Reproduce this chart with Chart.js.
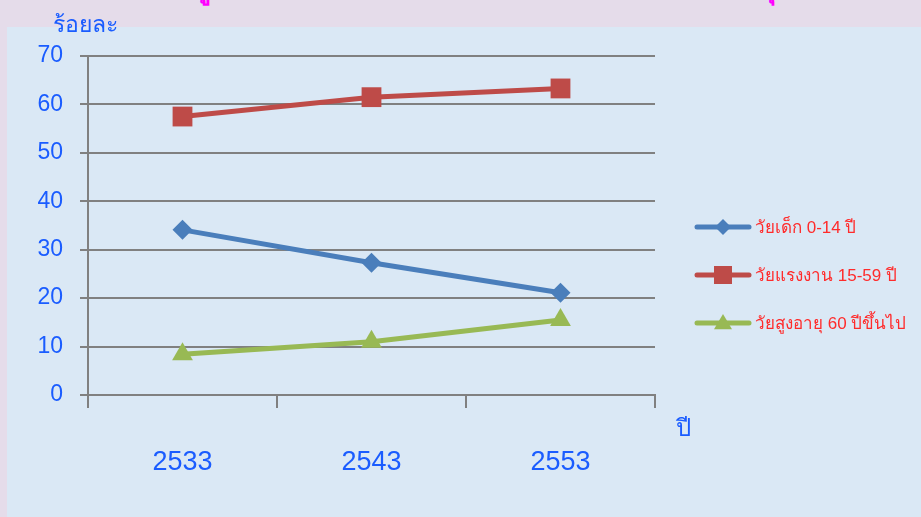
<!DOCTYPE html>
<html>
<head>
<meta charset="utf-8">
<script src="https://cdn.jsdelivr.net/npm/chart.js@4/dist/chart.umd.min.js"></script>
<style>
  html, body { margin: 0; padding: 0; }
  body { width: 921px; height: 517px; background: #e5dcea; position: relative; overflow: hidden; font-family: "Liberation Sans", Arial, sans-serif; }
  #bg { position: absolute; left: 7px; top: 27px; right: 0; bottom: 0; background: #dae8f5; }
  #wrap { position: absolute; left: 0; top: 0; width: 921px; height: 517px; }
  .lbl { position: absolute; color: #1a5cff; white-space: nowrap; }
  .ttl { position: absolute; color: #ff00ff; white-space: nowrap; font-size: 28px; line-height: 28px; font-weight: bold; }
</style>
</head>
<body>
<div id="bg"></div>
<div class="ttl" style="left:193px; top:-25px;">ดู</div>
<div class="ttl" style="left:758px; top:-25px;">ปุ</div>
<div id="wrap"><canvas id="c" width="921" height="517"></canvas></div>
<div class="lbl" id="ytitle" style="left:53px; top:6px; font-size:23px;">ร้อยละ</div>
<div class="lbl" id="xtitle" style="left:676px; top:408px; font-size:24px;">ปี</div>
<script>
const years = ['2533', '2543', '2553'];
const child = [34.1, 27.3, 21.1];
const working = [57.5, 61.5, 63.3];
const elderly = [8.4, 11.0, 15.5];
const seriesNames = ['วัยเด็ก 0-14 ปี', 'วัยแรงงาน 15-59 ปี', 'วัยสูงอายุ 60 ปีขึ้นไป'];
const yTicks = [0, 10, 20, 30, 40, 50, 60, 70];

const colors = ['#4a7ebb', '#be4b48', '#98b954'];
const styles = ['rectRot', 'rect', 'triangle'];
const radii = [10, 14, 12];

function drawMarker(ctx, style, x, y, s, color) {
  ctx.save();
  ctx.fillStyle = color;
  ctx.beginPath();
  if (style === 'rectRot') {
    ctx.moveTo(x, y - s); ctx.lineTo(x + s, y); ctx.lineTo(x, y + s); ctx.lineTo(x - s, y);
  } else if (style === 'rect') {
    ctx.rect(x - s, y - s, 2 * s, 2 * s);
  } else {
    ctx.moveTo(x, y - s); ctx.lineTo(x + s, y + s * 0.7); ctx.lineTo(x - s, y + s * 0.7);
  }
  ctx.closePath();
  ctx.fill();
  ctx.restore();
}

const legendPlugin = {
  id: 'customLegend',
  afterDraw(chart) {
    const ctx = chart.ctx;
    const rows = [227, 275, 323];
    const sizes = [8, 9, 9];
    ctx.save();
    seriesNames.forEach((name, i) => {
      const y = rows[i];
      ctx.strokeStyle = colors[i];
      ctx.lineWidth = 5;
      ctx.lineCap = 'round';
      ctx.beginPath();
      ctx.moveTo(697, y); ctx.lineTo(749, y);
      ctx.stroke();
      drawMarker(ctx, styles[i], 723, y, sizes[i], colors[i]);
      ctx.fillStyle = '#ff2b2b';
      ctx.font = '17px "Liberation Sans", "Noto Sans", sans-serif';
      ctx.textBaseline = 'middle';
      ctx.textAlign = 'left';
      ctx.fillText(name, 755, y + 1);
    });
    ctx.restore();
  }
};

const data = {
  labels: years,
  datasets: [child, working, elderly].map((vals, i) => ({
    label: seriesNames[i],
    data: vals,
    borderColor: colors[i],
    backgroundColor: colors[i],
    borderWidth: 5,
    pointStyle: styles[i],
    pointRadius: radii[i],
    pointHoverRadius: radii[i],
    pointBorderWidth: 0,
    tension: 0
  }))
};

new Chart(document.getElementById('c'), {
  type: 'line',
  data: data,
  plugins: [legendPlugin],
  options: {
    responsive: false,
    animation: false,
    devicePixelRatio: 1,
    layout: { padding: { top: 56, right: 266, bottom: 0, left: 0 } },
    plugins: { legend: { display: false }, tooltip: { enabled: false } },
    scales: {
      x: {
        offset: true,
        grid: { offset: true, drawOnChartArea: false, drawTicks: true, tickLength: 13, color: '#808080', lineWidth: 2 },
        border: { display: true, color: '#808080', width: 2 },
        ticks: { color: '#1a5cff', font: { size: 27, family: '"Liberation Sans", Arial, sans-serif' }, padding: 38, maxRotation: 0 },
        afterFit(scale) { scale.height = 122; }
      },
      y: {
        min: 0, max: 70,
        afterBuildTicks(scale) { scale.ticks = yTicks.map(v => ({ value: v })); },
        grid: { color: '#808080', lineWidth: 2, drawTicks: true, tickLength: 8 },
        border: { display: true, color: '#808080', width: 2 },
        ticks: { color: '#1a5cff', font: { size: 23, family: '"Liberation Sans", Arial, sans-serif' }, padding: 17 },
        afterFit(scale) { scale.width = 88; }
      }
    }
  }
});
</script>
</body>
</html>
